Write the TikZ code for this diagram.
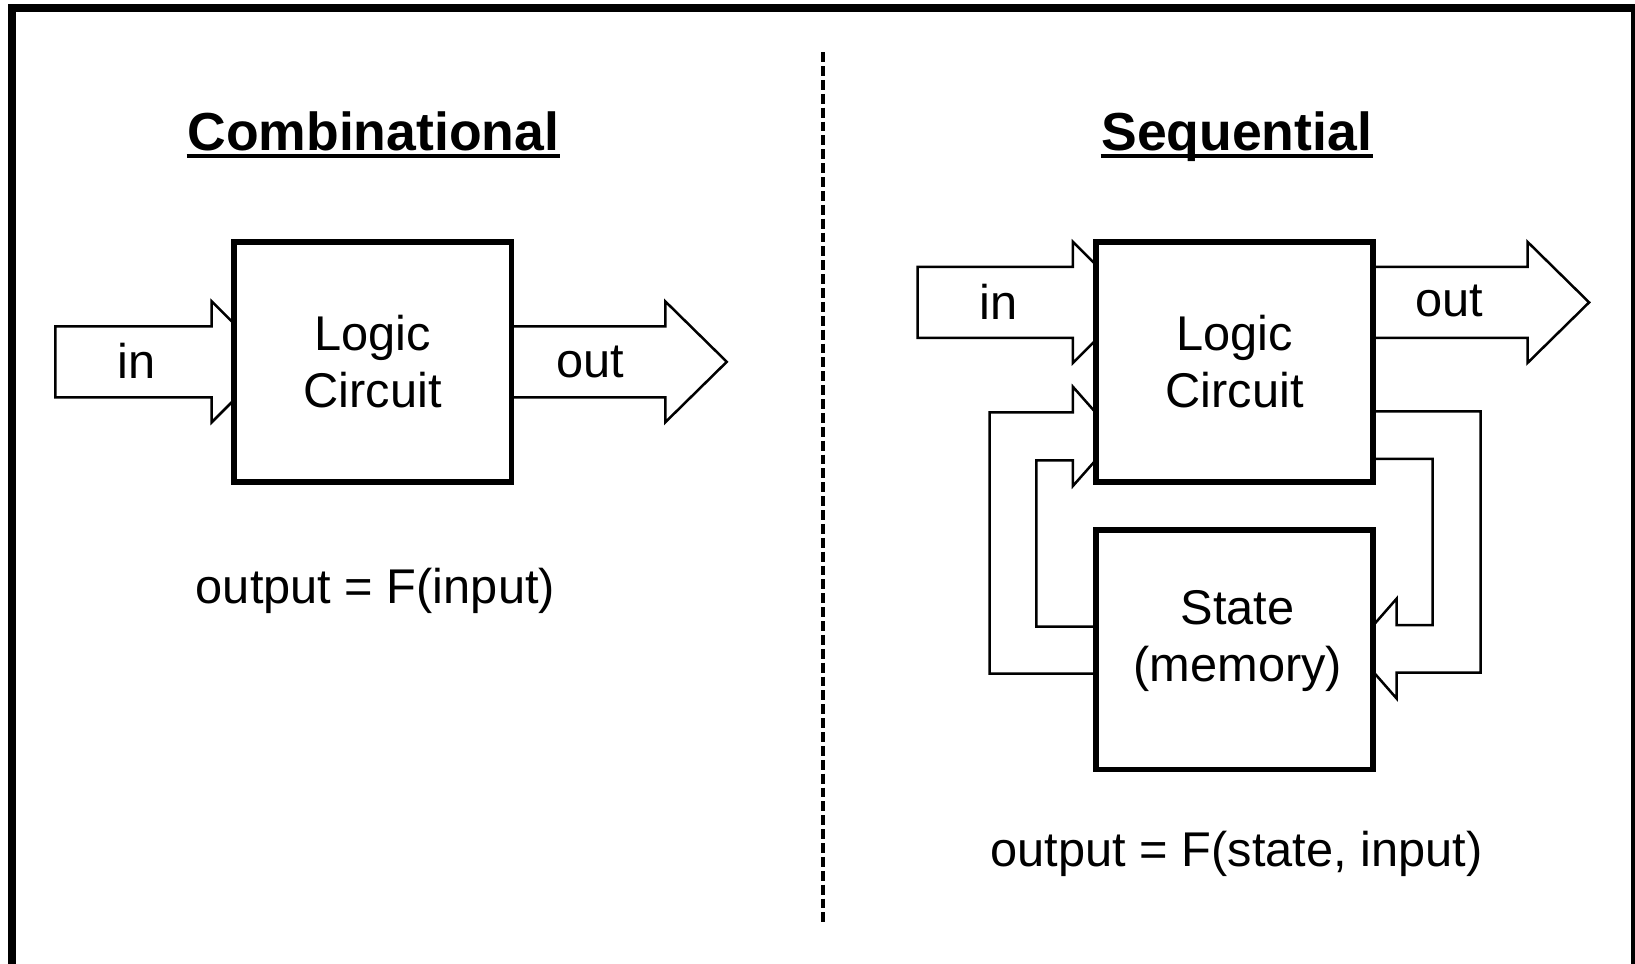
\documentclass[tikz,border=0pt]{standalone}
\usepackage{fontspec}
\setmainfont{Liberation Sans}
\usetikzlibrary{calc}

\begin{document}
\begin{tikzpicture}[x=0.01cm,y=-0.01cm,
  blk/.style={draw, line width=0.055cm, fill=white, minimum width=2.66cm,
    minimum height=2.30cm, inner sep=0, outer sep=0},
  fat/.style={draw, line width=0.024cm, fill=white, line join=miter},
  lbl/.style={font=\fontsize{13.3}{15.5}\selectfont, inner sep=0, align=center},
  ttl/.style={font=\fontsize{14.6}{17}\selectfont\bfseries, inner sep=0, anchor=base},
  uline/.style={line width=0.04cm},
  frame/.style={line width=0.077cm},
  divider/.style={line width=0.035cm, dash pattern=on 0.095cm off 0.038cm},
]
\useasboundingbox (0,0) rectangle (1568,924);

% outer frame (bottom edge lies below the page)
\draw[frame] (11.5,960) -- (11.5,7.7) -- (1568,7.7) -- (1568,960);

% dashed divider between the two halves
\coordinate (dtop) at (789,50);
\coordinate (dbot) at (789,885);
\draw[divider] (dtop) -- (dbot);

% ---------------- Combinational ----------------
\node[ttl] (t1) at (358,144) {Combinational};
\draw[uline] ($(t1.base west)+(0,6)$) -- ($(t1.base east)+(0,6)$);

\coordinate (lcpos) at (357.5,347);
% input arrow (tip hidden under the block)
\draw[fat] ($(lcpos)+(-304.5,-34)$) -- ++(150,0) -- ++(0,-24) -- ++(58,58)
  -- ++(-58,58) -- ++(0,-24) -- ++(-150,0) -- cycle;
% output arrow
\draw[fat] ($(lcpos)+(133.5,-34)$) -- ++(147,0) -- ++(0,-24) -- ++(59,58)
  -- ++(-59,58) -- ++(0,-24) -- ++(-147,0) -- cycle;

\node[blk, lbl] (lc) at (lcpos) {Logic\\Circuit};
\node[lbl] (lin) at (131,346) {in};
\node[lbl] (lout) at (566,347) {out};
\node[lbl] (lf) at (360,567) {output = F(input)};

% ---------------- Sequential ----------------
\node[ttl] (t2) at (1186,144) {Sequential};
\draw[uline] ($(t2.base west)+(0,6)$) -- ($(t2.base east)+(0,6)$);

\coordinate (rcpos) at (1184,347);
\coordinate (stpos) at (1184,623);

% input arrow
\draw[fat] ($(rcpos)+(-304,-91)$) -- ++(149,0) -- ++(0,-24) -- ++(58,58)
  -- ++(-58,58) -- ++(0,-24) -- ++(-149,0) -- cycle;
% output arrow
\draw[fat] ($(rcpos)+(133,-91)$) -- ++(148,0) -- ++(0,-24) -- ++(59,58)
  -- ++(-59,58) -- ++(0,-24) -- ++(-148,0) -- cycle;

% feedback: state -> logic (left side)
\draw[fat] ($(stpos)+(-133,23)$) -- (949,646) -- (949,395.5) -- (1029,395.5)
  -- (1029,371) -- (1071,418.5) -- (1029,466) -- (1029,441.5)
  -- (994,441.5) -- (994,601) -- ($(stpos)+(-133,-22)$) -- cycle;
% feedback: logic -> state (right side)
\draw[fat] ($(rcpos)+(133,47.5)$) -- (1420,394.5) -- (1420,645) -- (1339.5,645)
  -- (1339.5,670) -- (1297.5,622) -- (1339.5,574) -- (1339.5,599.5)
  -- (1374,599.5) -- (1374,440) -- ($(rcpos)+(133,93)$) -- cycle;

\node[blk, lbl] (rc) at (rcpos) {Logic\\Circuit};
\node[blk, lbl] (st) at (stpos) {};
\node[lbl] (stl) at (1187,615) {State\\(memory)};

\node[lbl] (rin) at (958,289) {in};
\node[lbl] (rout) at (1390,289) {out};
\node[lbl] (rf) at (1186,819) {output = F(state, input)};
\end{tikzpicture}
\end{document}
